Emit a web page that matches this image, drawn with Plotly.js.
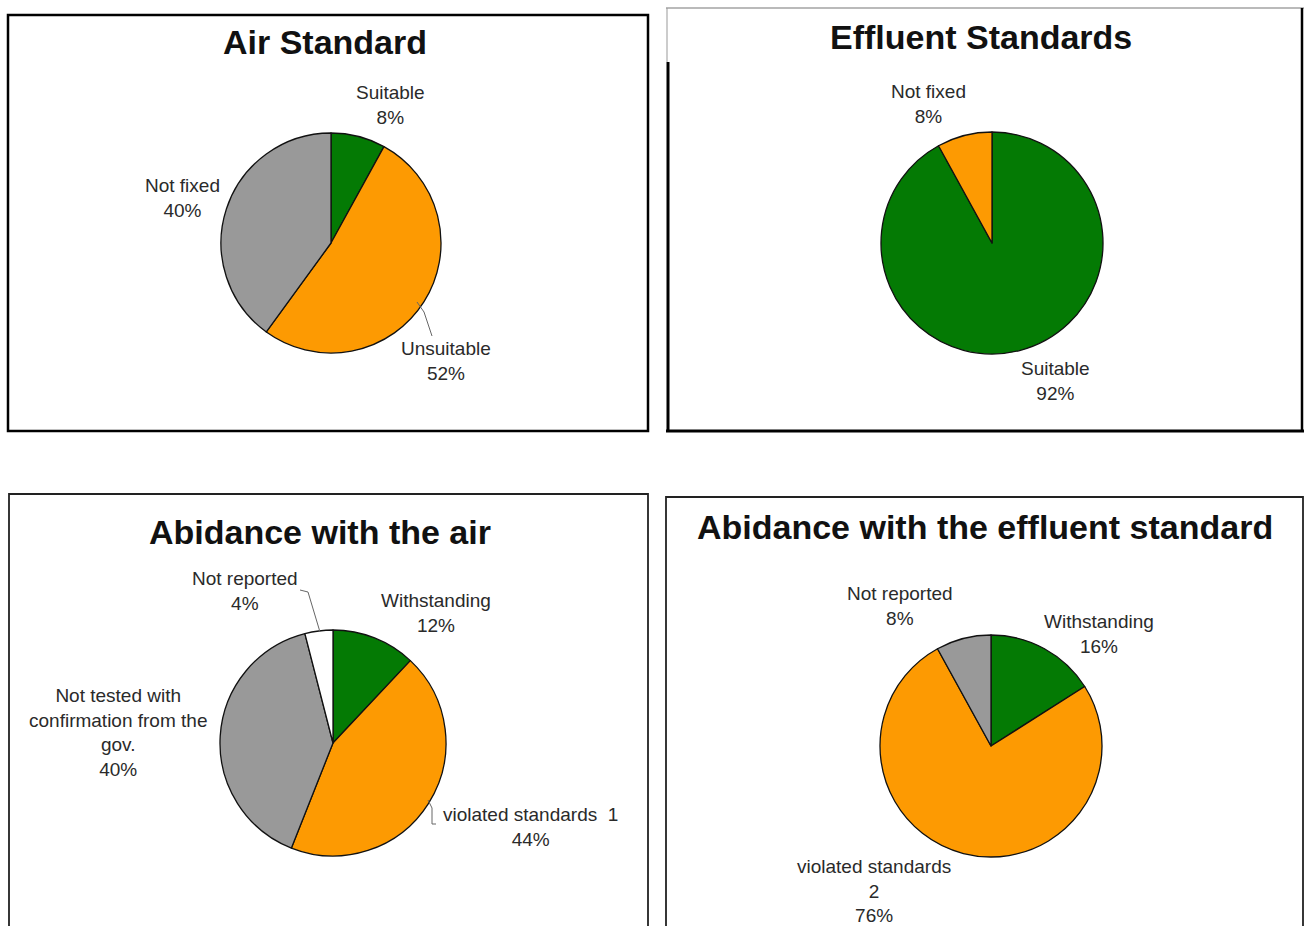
<!DOCTYPE html>
<html><head><meta charset="utf-8">
<script src="https://cdn.plot.ly/plotly-3.0.1.min.js"></script>
<style>html,body{margin:0;padding:0;background:#fff}#chart{width:1304px;height:926px}</style>
</head><body><div id="chart"></div>
<script>
// ---- data ----
const airTitle = 'Air Standard';
const airLabels = ['Suitable', 'Unsuitable', 'Not fixed'];
const airValues = [8, 52, 40];

const effTitle = 'Effluent Standards';
const effLabels = ['Suitable', 'Not fixed'];
const effValues = [92, 8];

const abAirTitle = 'Abidance with the air';
const abAirLabels = ['Withstanding', 'violated standards  1', 'Not tested with<br>confirmation from the<br>gov.', 'Not reported'];
const abAirValues = [12, 44, 40, 4];

const abEffTitle = 'Abidance with the effluent standard';
const abEffLabels = ['Withstanding', 'violated standards<br>2', 'Not reported'];
const abEffValues = [16, 76, 8];

// ---- styling ----
const GREEN = '#047a04', ORANGE = '#fd9a02', GRAY = '#999999', WHITE = '#ffffff';
const W = 1304, H = 926;
const fx = x => x / W, fy = y => 1 - y / H;

function pie(labels, values, colors, cx, cy, r) {
  return {
    type: 'pie', labels: labels, values: values, sort: false, direction: 'clockwise', rotation: 0,
    marker: {colors: colors, line: {color: '#111', width: 1.3}},
    textinfo: 'none', hoverinfo: 'label+percent', showlegend: false,
    domain: {x: [fx(cx - r), fx(cx + r)], y: [fy(cy + r), fy(cy - r)]}
  };
}

const data = [
  pie(airLabels, airValues, [GREEN, ORANGE, GRAY], 331, 243, 110),
  pie(effLabels, effValues, [GREEN, ORANGE], 992, 243, 111),
  pie(abAirLabels, abAirValues, [GREEN, ORANGE, GRAY, WHITE], 333, 743, 113),
  pie(abEffLabels, abEffValues, [GREEN, ORANGE, GRAY], 991, 746, 111)
];

const LFONT = {family: 'Liberation Sans, Arial, sans-serif', size: 19, color: '#2a2a2a'};
const TFONT = {family: 'Liberation Sans, Arial, sans-serif', size: 34, color: '#111'};

function lab(labels, values, i, x, y) {
  return {xref: 'paper', yref: 'paper', x: fx(x), y: fy(y), xanchor: 'center', yanchor: 'middle',
    text: labels[i] + '<br>' + values[i] + '%', showarrow: false, font: LFONT, align: 'center'};
}
function ttl(text, x, y) {
  return {xref: 'paper', yref: 'paper', x: fx(x), y: fy(y), xanchor: 'center', yanchor: 'middle',
    text: '<b>' + text + '</b>', showarrow: false, font: TFONT};
}

const annotations = [
  ttl(airTitle, 325, 42),
  ttl(effTitle, 981, 37),
  ttl(abAirTitle, 320, 532),
  ttl(abEffTitle, 985, 527),
  lab(airLabels, airValues, 0, 390, 105),
  lab(airLabels, airValues, 1, 446, 361),
  lab(airLabels, airValues, 2, 182, 198),
  lab(effLabels, effValues, 1, 928, 104),
  lab(effLabels, effValues, 0, 1055, 381),
  lab(abAirLabels, abAirValues, 0, 436, 613),
  lab(abAirLabels, abAirValues, 1, 530, 827),
  lab(abAirLabels, abAirValues, 2, 118, 732),
  lab(abAirLabels, abAirValues, 3, 245, 591),
  lab(abEffLabels, abEffValues, 0, 1099, 634),
  lab(abEffLabels, abEffValues, 1, 874, 891),
  lab(abEffLabels, abEffValues, 2, 900, 606)
];

function line(x0, y0, x1, y1, color, width) {
  return {type: 'line', xref: 'paper', yref: 'paper', x0: fx(x0), y0: fy(y0), x1: fx(x1), y1: fy(y1),
    line: {color: color, width: width}};
}
function rect(x0, y0, x1, y1, color, width) {
  return {type: 'rect', xref: 'paper', yref: 'paper', x0: fx(x0), y0: fy(y0), x1: fx(x1), y1: fy(y1),
    line: {color: color, width: width}, fillcolor: 'rgba(0,0,0,0)'};
}

const shapes = [
  rect(8, 15, 648, 431, '#000', 2.5),
  // panel 2 frame
  line(666, 8, 1304, 8, '#777', 1.2),
  line(667, 8, 667, 62, '#999', 1),
  line(668, 62, 668, 432, '#000', 3),
  line(666, 431, 1304, 431, '#000', 3),
  line(1302, 8, 1302, 432, '#000', 2.5),
  // panel 3 frame
  rect(9, 494, 648, 940, '#222', 1.8),
  // panel 4 frame
  rect(666, 497, 1303, 940, '#222', 1.8),
  // leader lines
  line(417, 302, 424, 312, '#666', 1),
  line(424, 312, 432, 336, '#666', 1),
  line(300, 590, 308, 592, '#666', 1),
  line(308, 592, 320, 632, '#666', 1),
  line(428, 800, 432, 808, '#666', 1),
  line(432, 808, 432, 824, '#666', 1),
  line(432, 824, 436, 824, '#666', 1)
];

const layout = {
  width: W, height: H, margin: {l: 0, r: 0, t: 0, b: 0},
  paper_bgcolor: '#fff', plot_bgcolor: '#fff',
  showlegend: false, annotations: annotations, shapes: shapes
};

Plotly.newPlot('chart', data, layout, {displayModeBar: false, staticPlot: true});
</script>
</body></html>
